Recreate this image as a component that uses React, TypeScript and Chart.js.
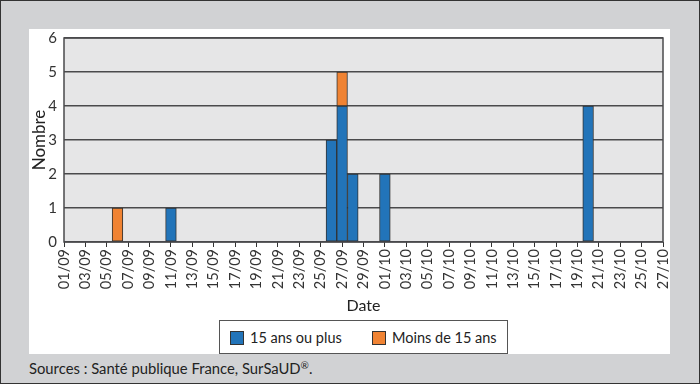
import React, { useEffect, useRef } from "react";
import { Chart, registerables } from "chart.js";

Chart.register(...registerables);

const dates = [
  "01/09", "02/09", "03/09", "04/09", "05/09", "06/09", "07/09", "08/09", "09/09", "10/09",
  "11/09", "12/09", "13/09", "14/09", "15/09", "16/09", "17/09", "18/09", "19/09", "20/09",
  "21/09", "22/09", "23/09", "24/09", "25/09", "26/09", "27/09", "28/09", "29/09", "30/09",
  "01/10", "02/10", "03/10", "04/10", "05/10", "06/10", "07/10", "08/10", "09/10", "10/10",
  "11/10", "12/10", "13/10", "14/10", "15/10", "16/10", "17/10", "18/10", "19/10", "20/10",
  "21/10", "22/10", "23/10", "24/10", "25/10", "26/10", "27/10",
];

const plus15 = [
  0, 0, 0, 0, 0, 0, 0, 0, 0, 0,
  1, 0, 0, 0, 0, 0, 0, 0, 0, 0,
  0, 0, 0, 0, 0, 3, 4, 2, 0, 0,
  2, 0, 0, 0, 0, 0, 0, 0, 0, 0,
  0, 0, 0, 0, 0, 0, 0, 0, 0, 4,
  0, 0, 0, 0, 0, 0, 0,
];

const moins15 = [
  0, 0, 0, 0, 0, 1, 0, 0, 0, 0,
  0, 0, 0, 0, 0, 0, 0, 0, 0, 0,
  0, 0, 0, 0, 0, 0, 1, 0, 0, 0,
  0, 0, 0, 0, 0, 0, 0, 0, 0, 0,
  0, 0, 0, 0, 0, 0, 0, 0, 0, 0,
  0, 0, 0, 0, 0, 0, 0,
];

const seriesNames = ["15 ans ou plus", "Moins de 15 ans"];
const seriesColors = ["#2274b9", "#f08333"];
const yMax = 6;

const FONT = "Lato, 'Open Sans', sans-serif";

const plotBg = {
  id: "plotBg",
  beforeDraw(chart: any) {
    const { ctx, chartArea } = chart;
    ctx.save();
    ctx.fillStyle = "#e6e6e7";
    ctx.fillRect(chartArea.left, chartArea.top, chartArea.right - chartArea.left, chartArea.bottom - chartArea.top);
    ctx.restore();
  },
  beforeDatasetsDraw(chart: any) {
    const { ctx, chartArea } = chart;
    ctx.save();
    ctx.strokeStyle = "#4a4a4c";
    ctx.lineWidth = 1.5;
    ctx.strokeRect(chartArea.left, chartArea.top, chartArea.right - chartArea.left, chartArea.bottom - chartArea.top);
    ctx.restore();
  },
};

export default function App() {
  const ref = useRef<HTMLCanvasElement>(null);

  useEffect(() => {
    if (!ref.current) return;
    const chart = new Chart(ref.current, {
      type: "bar",
      data: {
        labels: dates,
        datasets: [
          {
            label: seriesNames[0],
            data: plus15,
            backgroundColor: seriesColors[0],
            borderColor: "#333333",
            borderWidth: 1,
            borderSkipped: false,
            barPercentage: 1,
            categoryPercentage: 1,
          },
          {
            label: seriesNames[1],
            data: moins15,
            backgroundColor: seriesColors[1],
            borderColor: "#333333",
            borderWidth: 1,
            borderSkipped: false,
            barPercentage: 1,
            categoryPercentage: 1,
          },
        ],
      },
      options: {
        animation: false,
        responsive: false,
        maintainAspectRatio: false,
        layout: { padding: { top: 9, right: 7, left: 0, bottom: 0 } },
        plugins: { legend: { display: false }, tooltip: { enabled: false } },
        scales: {
          x: {
            stacked: true,
            offset: false,
            grid: {
              offset: false,
              drawOnChartArea: false,
              drawTicks: true,
              tickLength: 5,
              color: "#333333",
              lineWidth: 1,
            },
            border: { display: false },
            ticks: {
              autoSkip: false,
              maxRotation: 90,
              minRotation: 90,
              padding: 2,
              color: "#333333",
              font: { family: FONT, size: 14.5 },
              callback: function (this: any, _v: any, i: number) {
                return i % 2 === 0 ? dates[i] : null;
              },
            },
            title: {
              display: true,
              text: "Date",
              color: "#222222",
              font: { family: FONT, size: 16 },
              padding: { top: 0, bottom: 5 },
            },
            afterFit(scale: any) {
              scale.height = 78;
              scale.paddingLeft = 0;
              scale.paddingRight = 0;
            },
          },
          y: {
            stacked: true,
            min: 0,
            max: yMax,
            grid: { color: "#4a4a4c", lineWidth: 1.5, drawTicks: false },
            border: { display: false },
            ticks: {
              stepSize: 1,
              padding: 7,
              color: "#333333",
              font: { family: FONT, size: 15 },
            },
            title: {
              display: true,
              text: "Nombre",
              color: "#222222",
              font: { family: FONT, size: 17 },
              padding: { top: 0, bottom: 0 },
            },
            afterFit(scale: any) {
              scale.width = 35;
              scale.paddingTop = 0;
              scale.paddingBottom = 0;
            },
          },
        },
      },
      plugins: [plotBg],
    });
    return () => chart.destroy();
  }, []);

  const legendItem = (i: number, left: number) => (
    <div style={{ position: "absolute", left, top: 9, display: "flex", alignItems: "center" }}>
      <div
        style={{
          width: 12,
          height: 12,
          background: seriesColors[i],
          border: "1px solid #333",
          marginRight: 6,
        }}
      />
      <span style={{ fontSize: 14.5, color: "#222", lineHeight: "16px" }}>{seriesNames[i]}</span>
    </div>
  );

  return (
    <div
      style={{
        position: "absolute",
        left: 0,
        top: 0,
        width: 698,
        height: 382,
        background: "#d1d2d4",
        border: "1px solid #333",
        fontFamily: FONT,
        overflow: "hidden",
      }}
    >
      <div style={{ position: "absolute", left: 28, top: 28, width: 641, height: 325, background: "#ffffff" }}>
        <canvas ref={ref} width={641} height={291} style={{ position: "absolute", left: 0, top: 0, width: 641, height: 291 }} />
        <div
          style={{
            position: "absolute",
            left: 190,
            top: 291,
            width: 287,
            height: 32,
            border: "1px solid #555",
            background: "#fff",
          }}
        >
          {legendItem(0, 10)}
          {legendItem(1, 152)}
        </div>
      </div>
      <div style={{ position: "absolute", left: 28, top: 358, fontSize: 14.8, color: "#222", whiteSpace: "nowrap" }}>
        Sources : Santé publique France, SurSaUD<sup style={{ fontSize: 10, verticalAlign: "5px" }}>®</sup>.
      </div>
    </div>
  );
}
